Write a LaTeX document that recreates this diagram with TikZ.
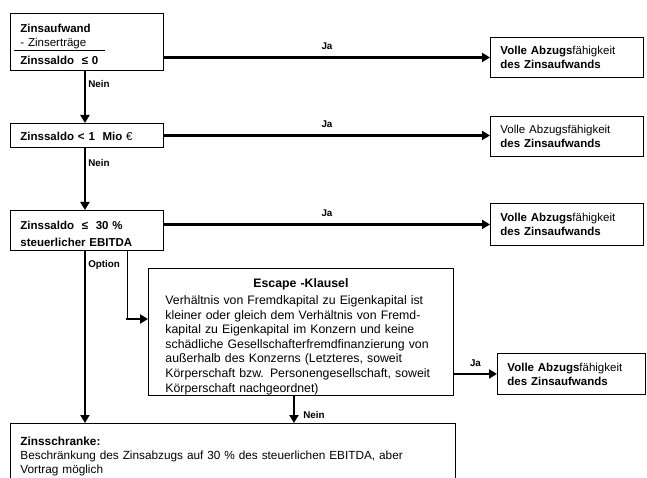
\documentclass[tikz,border=0pt]{standalone}
\usepackage{fontspec}
\setmainfont{Liberation Sans}
\usepackage{tikz}
\usetikzlibrary{shapes.geometric, arrows, arrows.meta}
\tikzstyle{box} = [draw, line width=0.9pt, rectangle, anchor=north west, align=left, inner xsep=10pt, inner ysep=0pt, font=\fontsize{11.5}{14}\selectfont]
\tikzstyle{arrow} = [line width=2.8pt,-{Triangle[length=8pt,width=9pt]}]
\tikzstyle{lab} = [font=\fontsize{9.8}{10}\selectfont\bfseries, inner sep=2pt]

\begin{document}
\begin{tikzpicture}[x=1pt,y=-1pt]
\useasboundingbox (0,0) rectangle (647,478);
\node[box, text width=133pt, minimum height=57pt] (zaufw) at (10,13) {\rule{0pt}{14pt}\textbf{Zinsaufwand}\\- Zinserträge\\[4pt]\textbf{Zinssaldo \ ≤ 0}};
\draw[line width=0.8pt] (14,50) -- (105,50);
\node[box, text width=133pt, minimum height=24pt] (zsmio) at (10,123) {\rule{0pt}{11pt}\textbf{Zinssaldo < 1 \ Mio} €};
\node[box, text width=133pt, minimum height=40pt] (zsebit) at (10,210) {\rule{0pt}{15.5pt}\textbf{Zinssaldo \ ≤ \ 30 \%}\\[3pt]\textbf{steuerlicher EBITDA}};
\node[box, text width=133pt, minimum height=40pt] (voll1) at (490,37) {\textbf{Volle Abzugs}fähigkeit\\\textbf{des Zinsaufwands}};
\node[box, text width=133pt, minimum height=40pt] (voll2) at (490,116) {Volle Abzugsfähigkeit\\\textbf{des Zinsaufwands}};
\node[box, text width=133pt, minimum height=42pt] (voll3) at (490,203) {\textbf{Volle Abzugs}fähigkeit\\\textbf{des Zinsaufwands}};
\node[box, text width=128pt, minimum height=41pt] (voll4) at (497,353) {\textbf{Volle Abzugs}fähigkeit\\\textbf{des Zinsaufwands}};
\node[box, text width=271pt, inner xsep=17pt, minimum height=127pt, font=\fontsize{12.3}{14.6}\selectfont] (escape) at (148,268) {\makebox[\linewidth][c]{\rule{0pt}{18pt}\textbf{Escape -Klausel}}\\[2.5pt]Verhältnis von Fremdkapital zu Eigenkapital ist\\kleiner oder gleich dem Verhältnis von Fremd-\\kapital zu Eigenkapital im Konzern und keine\\schädliche Gesellschafterfremdfinanzierung von\\außerhalb des Konzerns (Letzteres, soweit\\Körperschaft bzw. Personengesellschaft, soweit\\Körperschaft nachgeordnet)};
\node[box, text width=425pt, minimum height=66pt, font=\fontsize{11.8}{14}\selectfont] (schranke) at (10,423) {\textbf{Zinsschranke:}\\Beschränkung des Zinsabzugs auf 30 \% des steuerlichen EBITDA, aber\\Vortrag möglich};
\coordinate (knick) at (127,319);
\draw[arrow] (zaufw.east |- voll1.west) -- (voll1.west) node[lab, midway, above=4pt] {Ja};
\draw[arrow] (zsmio.east) -- (zsmio.east -| voll2.west) node[lab, midway, above=4pt] {Ja};
\draw[arrow] (zsebit.east |- voll3.west) -- (voll3.west) node[lab, midway, above=4pt] {Ja};
\draw[arrow] ([xshift=-2pt]zaufw.south) -- ([xshift=-2pt]zsmio.north) node[lab, pos=0.25, right] {Nein};
\draw[arrow] ([xshift=-2pt]zsmio.south) -- ([xshift=-2pt]zsebit.north) node[lab, pos=0.25, right] {Nein};
\draw[arrow] ([xshift=-2pt]zsebit.south) -- ([xshift=-2pt]zsebit.south |- schranke.north) node[lab, pos=0.08, right] {Option};
\draw[line width=1pt] (zsebit.south -| knick) -- (knick);
\draw[arrow] ([xshift=-1.4pt]knick) -- (knick -| escape.west);
\draw[arrow] ([xshift=-7pt]escape.south) -- ([xshift=-7pt]escape.south |- schranke.north) node[lab, pos=0.7, right=6pt] {Nein};
\draw[arrow] (escape.east |- voll4.west) -- (voll4.west) node[lab, midway, above=4pt] {Ja};
\end{tikzpicture}
\end{document}
